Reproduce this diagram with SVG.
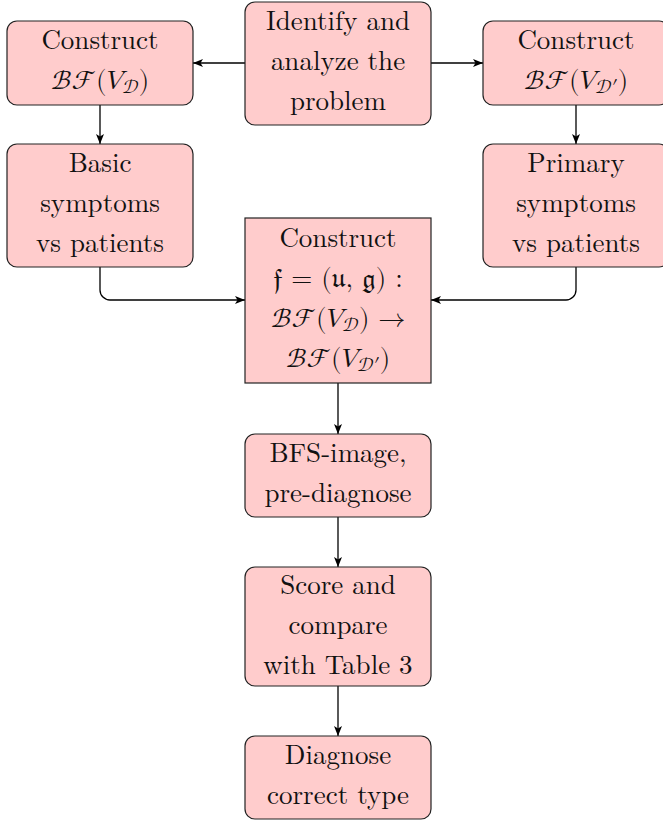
<svg xmlns="http://www.w3.org/2000/svg" width="663" height="820" viewBox="0 0 663 820">
<style>
.n{fill:#ffcccc;stroke:#222;stroke-width:1.2}
.t{font-family:'Latin Modern Roman','Liberation Serif',serif;font-size:27px;fill:#111;text-anchor:middle}
.m{font-family:'Latin Modern Math','STIX Two Math','Liberation Serif',serif}
.s{font-size:19px}
.c{fill:none;stroke:#000;stroke-width:1.3}
</style>
<defs>
<marker id="a" viewBox="0 0 10 8" refX="10" refY="4" markerWidth="10" markerHeight="8" markerUnits="userSpaceOnUse" orient="auto">
<path d="M0,0 L10,4 L0,8 L2.5,4 Z" fill="#000"/>
</marker>
</defs>
<g id="connectors">
<path class="c" d="M245,63 H193" marker-end="url(#a)"/>
<path class="c" d="M431,63 H483" marker-end="url(#a)"/>
<path class="c" d="M100,105 V144" marker-end="url(#a)"/>
<path class="c" d="M576,105 V144" marker-end="url(#a)"/>
<path class="c" d="M100,267 V290 A10,10 0 0 0 110,300 H245" marker-end="url(#a)"/>
<path class="c" d="M576,267 V290 A10,10 0 0 1 566,300 H431" marker-end="url(#a)"/>
<path class="c" d="M338,383 V434" marker-end="url(#a)"/>
<path class="c" d="M338,517 V567" marker-end="url(#a)"/>
<path class="c" d="M338,686 V736" marker-end="url(#a)"/>
</g>
<g id="identify">
<rect class="n" x="245" y="2" width="186" height="123" rx="10"/>
<text class="t" x="338" y="30">Identify and</text>
<text class="t" x="338" y="70">analyze the</text>
<text class="t" x="338" y="110">problem</text>
</g>
<g id="bfd">
<rect class="n" x="7" y="21" width="186" height="84" rx="10"/>
<text class="t" x="100" y="49">Construct</text>
<text class="t m" x="100" y="89">ℬℱ(𝑉<tspan class="s" dy="4">𝒟</tspan><tspan dy="-4">)</tspan></text>
</g>
<g id="bfdp">
<rect class="n" x="483" y="21" width="186" height="84" rx="10"/>
<text class="t" x="576" y="49">Construct</text>
<text class="t m" x="576" y="89">ℬℱ(𝑉<tspan class="s" dy="4">𝒟′</tspan><tspan dy="-4">)</tspan></text>
</g>
<g id="basic">
<rect class="n" x="7" y="144" width="186" height="123" rx="10"/>
<text class="t" x="100" y="172">Basic</text>
<text class="t" x="100" y="212">symptoms</text>
<text class="t" x="100" y="252">vs patients</text>
</g>
<g id="primary">
<rect class="n" x="483" y="144" width="186" height="123" rx="10"/>
<text class="t" x="576" y="172">Primary</text>
<text class="t" x="576" y="212">symptoms</text>
<text class="t" x="576" y="252">vs patients</text>
</g>
<g id="map">
<rect class="n" x="245" y="218" width="186" height="165"/>
<text class="t" x="338" y="247">Construct</text>
<text class="t m" x="338" y="287">𝔣 = (𝔲, 𝔤) :</text>
<text class="t m" x="338" y="327">ℬℱ(𝑉<tspan class="s" dy="4">𝒟</tspan><tspan dy="-4">) →</tspan></text>
<text class="t m" x="338" y="367">ℬℱ(𝑉<tspan class="s" dy="4">𝒟′</tspan><tspan dy="-4">)</tspan></text>
</g>
<g id="bfs">
<rect class="n" x="245" y="434" width="186" height="83" rx="10"/>
<text class="t" x="338" y="462">BFS-image,</text>
<text class="t" x="338" y="502">pre-diagnose</text>
</g>
<g id="score">
<rect class="n" x="245" y="567" width="186" height="119" rx="10"/>
<text class="t" x="338" y="594">Score and</text>
<text class="t" x="338" y="634">compare</text>
<text class="t" x="338" y="674">with Table 3</text>
</g>
<g id="diagnose">
<rect class="n" x="245" y="736" width="186" height="83" rx="10"/>
<text class="t" x="338" y="764">Diagnose</text>
<text class="t" x="338" y="804">correct type</text>
</g>
</svg>
